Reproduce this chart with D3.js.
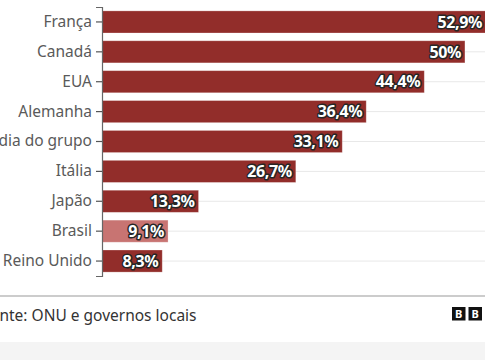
<!DOCTYPE html>
<html><head><meta charset="utf-8">
<script src="https://cdn.jsdelivr.net/npm/d3@7"></script>
<style>
html,body{margin:0;padding:0;background:#fff;overflow:hidden;}
svg{display:block;}
</style></head>
<body>
<script>
const categories = ["França","Canadá","EUA","Alemanha","Média do grupo","Itália","Japão","Brasil","Reino Unido"];
const values = [52.9, 50, 44.4, 36.4, 33.1, 26.7, 13.3, 9.1, 8.3];
const valueLabels = ["52,9%","50%","44,4%","36,4%","33,1%","26,7%","13,3%","9,1%","8,3%"];
const highlight = ["Brasil"];
const source = "Fonte: ONU e governos locais";

const W = 485, H = 360;
const svg = d3.select("body").append("svg").attr("width", W).attr("height", H);
const font = "'Noto Sans', 'Open Sans', sans-serif";

const x = d3.scaleLinear().domain([0, 52.9]).range([102, 486]);
const y = d3.scaleBand().domain(categories).range([7, 276]).paddingInner(0.26).paddingOuter(0.13);

// grid lines
svg.append("g").selectAll("line").data(categories).join("line")
  .attr("x1", 102).attr("x2", W)
  .attr("y1", d => y(d) + y.bandwidth()/2).attr("y2", d => y(d) + y.bandwidth()/2)
  .attr("stroke", "#e8e8e8").attr("stroke-width", 1);

// bars
svg.append("g").selectAll("rect").data(categories).join("rect")
  .attr("x", x(0)).attr("y", (d) => y(d))
  .attr("width", (d,i) => x(values[i]) - x(0))
  .attr("height", y.bandwidth())
  .attr("fill", d => highlight.includes(d) ? "#c87472" : "#922d2a")
  .attr("stroke", "#fff").attr("stroke-opacity", 0.35).attr("stroke-width", 0.8);

// axis
const ax = svg.append("g").attr("transform", `translate(${x(0)},0)`)
  .call(d3.axisLeft(y).tickSize(6).tickPadding(4));
ax.select(".domain").attr("stroke", "#666").attr("stroke-width", 1.2);
ax.selectAll(".tick line").attr("stroke", "#555").attr("stroke-width", 1.2);
ax.selectAll(".tick text").attr("font-family", font).attr("font-size", 15.5).attr("fill", "#5a5a5a");

// value labels
svg.append("g").selectAll("text").data(categories).join("text")
  .attr("x", (d,i) => x(values[i]) - 4)
  .attr("y", d => y(d) + y.bandwidth()/2)
  .attr("dy", "0.36em")
  .attr("text-anchor", "end")
  .attr("font-family", font).attr("font-weight", "bold").attr("font-size", 16)
  .attr("letter-spacing", "-0.4")
  .attr("fill", "#fff")
  .attr("stroke", "#262626").attr("stroke-width", 3).attr("stroke-linejoin", "round")
  .attr("paint-order", "stroke")
  .text((d,i) => valueLabels[i]);

// bottom rule
svg.append("line").attr("x1", 0).attr("x2", W).attr("y1", 296).attr("y2", 296)
  .attr("stroke", "#999").attr("stroke-width", 1);

svg.append("text").attr("x", -18).attr("y", 321)
  .attr("font-family", font).attr("font-size", 15.5).attr("fill", "#333")
  .text(source);

// BBC logo
const logo = svg.append("g");
["B","B","C"].forEach((c,i) => {
  const bx = 452 + i*16.5;
  logo.append("rect").attr("x", bx).attr("y", 307).attr("width", 13.5).attr("height", 13.5).attr("fill", "#111");
  logo.append("text").attr("x", bx + 6.75).attr("y", 318.2).attr("text-anchor", "middle")
    .attr("font-family", font).attr("font-weight", "bold").attr("font-size", 11).attr("fill", "#fff").text(c);
});

// bottom grey band
svg.append("rect").attr("x", 0).attr("y", 342).attr("width", W).attr("height", 18).attr("fill", "#f4f4f4");
</script>
</body></html>
